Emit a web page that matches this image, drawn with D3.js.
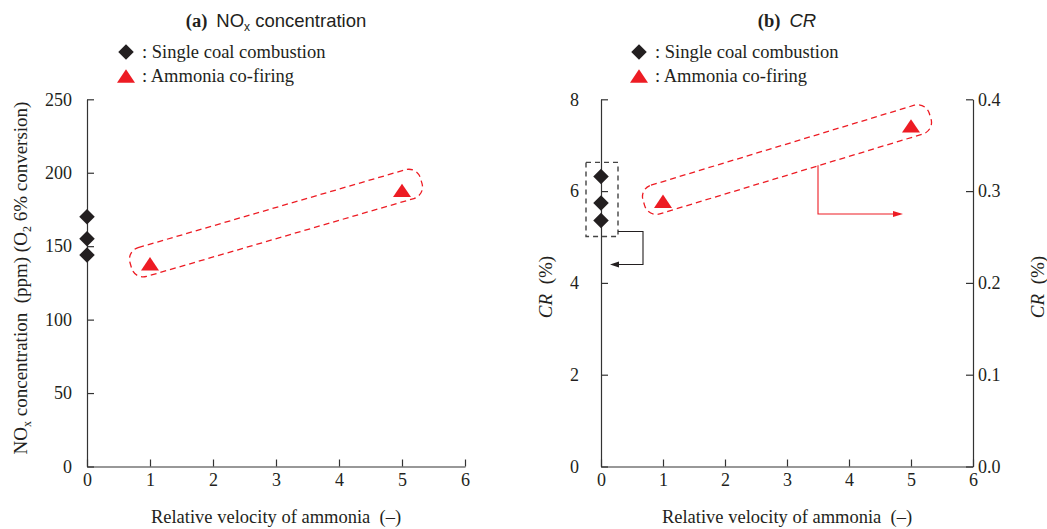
<!DOCTYPE html>
<html>
<head>
<meta charset="utf-8">
<script src="https://cdn.jsdelivr.net/npm/d3@7"></script>
<style>
  body { margin: 0; background: #fff; }
  text { fill: #231f20; }
  .serif { font-family: "Liberation Serif", "Times New Roman", serif; }
  .sans { font-family: "Liberation Sans", Arial, sans-serif; }
  .axis path, .axis line { stroke: #333; stroke-width: 1.2; }
  .axis text { font-family: "Liberation Serif", "Times New Roman", serif; font-size: 18px; fill: #231f20; }
</style>
</head>
<body>
<div id="chart"></div>
<script>
// tick labels
var xTicks = [0, 1, 2, 3, 4, 5, 6];
var noxTicks = [0, 50, 100, 150, 200, 250];
var crTicks = [0, 2, 4, 6, 8];
var crRightTicks = [0, 0.1, 0.2, 0.3, 0.4];

// single coal combustion (velocity 0)
var coalVel = [0, 0, 0];
var coalNox = [170, 155, 144];
var coalCR = [6.32, 5.74, 5.36];

// ammonia co-firing
var ammoniaVel = [1, 5];
var ammoniaNox = [138, 188];
var ammoniaCR = [0.289, 0.371]; // right axis

var red = "#ed1c24", black = "#231f20";
var fs = "18.5px";

var svg = d3.select("#chart").append("svg")
  .attr("width", 1047).attr("height", 529);

var diamond = d3.symbol().type(d3.symbolSquare).size(120);
var triangle = "M0,-6.7L9,6.7L-9,6.7Z";

function drawDiamonds(g, xs, ys, x, y) {
  g.selectAll(null).data(xs).enter().append("path")
    .attr("d", diamond)
    .attr("fill", black)
    .attr("transform", (d, i) => "translate(" + x(d) + "," + y(ys[i]) + ") rotate(45)");
}

function drawTriangles(g, xs, ys, x, y) {
  g.selectAll(null).data(xs).enter().append("path")
    .attr("d", triangle)
    .attr("fill", red)
    .attr("transform", (d, i) => "translate(" + x(d) + "," + y(ys[i]) + ")");
}

function capsule(g, p1, p2) {
  var dx = p2[0] - p1[0], dy = p2[1] - p1[1];
  var len = Math.sqrt(dx * dx + dy * dy);
  var ang = Math.atan2(dy, dx) * 180 / Math.PI;
  var pad = 20, h = 15;
  g.append("rect")
    .attr("transform", "translate(" + (p1[0] + p2[0]) / 2 + "," + ((p1[1] + p2[1]) / 2 - 4) + ") rotate(" + ang + ")")
    .attr("x", -len / 2 - pad).attr("y", -h)
    .attr("width", len + 2 * pad).attr("height", 2 * h)
    .attr("rx", 12)
    .attr("fill", "none")
    .attr("stroke", red)
    .attr("stroke-width", 1.3)
    .attr("stroke-dasharray", "6,4");
}

function legend(g, lx) {
  g.append("path").attr("d", diamond).attr("fill", black)
    .attr("transform", "translate(" + lx + ",52) rotate(45)");
  g.append("path").attr("d", triangle).attr("fill", red)
    .attr("transform", "translate(" + lx + ",76)");
  g.append("text").attr("class", "serif").attr("x", lx + 16).attr("y", 58)
    .style("font-size", fs).text(": Single coal combustion");
  g.append("text").attr("class", "serif").attr("x", lx + 16).attr("y", 82)
    .style("font-size", fs).text(": Ammonia co-firing");
}

function xAxis(g, x, y0) {
  var ax = g.append("g").attr("class", "axis")
    .attr("transform", "translate(0," + y0 + ")")
    .call(d3.axisBottom(x).tickValues(xTicks).tickSizeInner(-7).tickSizeOuter(0).tickFormat(d3.format("d")));
  ax.selectAll("text").attr("y", 19).attr("dy", null);
  g.append("text").attr("class", "serif")
    .attr("x", x(3)).attr("y", 523)
    .attr("text-anchor", "middle")
    .style("font-size", fs)
    .style("white-space", "pre")
    .text("Relative velocity of ammonia  (\u2013)");
}

var yTop = 99.3, yBot = 466.5;

// ---- panel (a) ----
var xa = d3.scaleLinear().domain([0, 6]).range([87, 465]);
var ya = d3.scaleLinear().domain([0, 250]).range([yBot, yTop]);
var ga = svg.append("g");

ga.append("g").attr("class", "axis")
  .attr("transform", "translate(" + xa(0) + ",0)")
  .call(d3.axisLeft(ya).tickValues(noxTicks).tickSizeInner(-7).tickSizeOuter(0).tickPadding(15));
xAxis(ga, xa, yBot);

var ta = ga.append("text").attr("x", xa(3)).attr("y", 27).attr("text-anchor", "middle");
ta.append("tspan").attr("class", "serif").style("font-weight", "bold").style("font-size", fs).text("(a)");
ta.append("tspan").attr("class", "sans").style("font-size", fs).attr("dx", 9).text("NO");
ta.append("tspan").attr("class", "sans").style("font-size", "12px").attr("dy", 4).text("x");
ta.append("tspan").attr("class", "sans").style("font-size", fs).attr("dy", -4).text(" concentration");

var yla = ga.append("text").attr("class", "serif")
  .attr("transform", "translate(27,278) rotate(-90)")
  .attr("text-anchor", "middle")
  .style("font-size", "19px")
  .style("white-space", "pre");
yla.append("tspan").text("NO");
yla.append("tspan").style("font-size", "12px").attr("dy", 4).text("x");
yla.append("tspan").attr("dy", -4).text(" concentration  (ppm) (O");
yla.append("tspan").style("font-size", "12px").attr("dy", 4).text("2");
yla.append("tspan").attr("dy", -4).text(" 6% conversion)");

legend(ga, xa(0) + 39);
capsule(ga, [xa(ammoniaVel[0]), ya(ammoniaNox[0])], [xa(ammoniaVel[1]), ya(ammoniaNox[1])]);
drawDiamonds(ga, coalVel, coalNox, xa, ya);
drawTriangles(ga, ammoniaVel, ammoniaNox, xa, ya);

// ---- panel (b) ----
var xb = d3.scaleLinear().domain([0, 6]).range([601, 973]);
var yb = d3.scaleLinear().domain([0, 8]).range([yBot, yTop]);
var yb2 = d3.scaleLinear().domain([0, 0.4]).range([yBot, yTop]);
var gb = svg.append("g");

gb.append("g").attr("class", "axis")
  .attr("transform", "translate(" + xb(0) + ",0)")
  .call(d3.axisLeft(yb).tickValues(crTicks).tickSizeInner(-7).tickSizeOuter(0).tickPadding(22));
gb.append("g").attr("class", "axis")
  .attr("transform", "translate(" + xb(6) + ",0)")
  .call(d3.axisRight(yb2).tickValues(crRightTicks).tickSizeInner(-7).tickSizeOuter(0).tickPadding(5).tickFormat(d3.format(".1f")));
xAxis(gb, xb, yBot);

var tb = gb.append("text").attr("x", xb(3)).attr("y", 27).attr("text-anchor", "middle");
tb.append("tspan").attr("class", "serif").style("font-weight", "bold").style("font-size", fs).text("(b)");
tb.append("tspan").attr("class", "sans").style("font-size", fs).style("font-style", "italic").attr("dx", 9).text("CR");

[[552, 287], [1044, 287]].forEach(function (p) {
  var t = gb.append("text").attr("class", "serif")
    .attr("transform", "translate(" + p[0] + "," + p[1] + ") rotate(-90)")
    .attr("text-anchor", "middle")
    .style("font-size", "19px")
    .style("white-space", "pre");
  t.append("tspan").style("font-style", "italic").text("CR");
  t.append("tspan").text("  (%)");
});

legend(gb, xb(0) + 38);
capsule(gb, [xb(ammoniaVel[0]), yb2(ammoniaCR[0])], [xb(ammoniaVel[1]), yb2(ammoniaCR[1])]);

// dashed box around single coal points -> arrow to left axis
var boxTop = yb(d3.max(coalCR)) - 14, boxBot = yb(d3.min(coalCR)) + 16;
gb.append("rect")
  .attr("x", xb(0) - 15).attr("y", boxTop)
  .attr("width", 32).attr("height", boxBot - boxTop)
  .attr("fill", "none").attr("stroke", "#444")
  .attr("stroke-width", 1.4).attr("stroke-dasharray", "5,4");
var ay = boxBot - 5, ax2 = xb(0) + 42, aEnd = yb(4.4);
gb.append("path")
  .attr("d", "M" + (xb(0) + 17) + "," + ay + "H" + ax2 + "V" + aEnd + "H" + (xb(0) + 16))
  .attr("fill", "none").attr("stroke", black).attr("stroke-width", 1.1);
gb.append("path")
  .attr("d", "M" + (xb(0) + 9) + "," + aEnd + "l9,-3v6z")
  .attr("fill", black);

// red arrow from capsule to right axis
var rx0 = xb(3.5), rEnd = xb(5) - 8;
var ryTop = yb2(ammoniaCR[0]) + (yb2(ammoniaCR[1]) - yb2(ammoniaCR[0])) * (3.5 - 1) / 4 + 11;
var ryBot = yb2(0.275);
gb.append("path")
  .attr("d", "M" + rx0 + "," + ryTop + "V" + ryBot + "H" + (rEnd - 8))
  .attr("fill", "none").attr("stroke", red).attr("stroke-width", 1.1);
gb.append("path")
  .attr("d", "M" + rEnd + "," + ryBot + "l-10,-3v6z")
  .attr("fill", red);

drawDiamonds(gb, coalVel, coalCR, xb, yb);
drawTriangles(gb, ammoniaVel, ammoniaCR, xb, yb2);
</script>
</body>
</html>
